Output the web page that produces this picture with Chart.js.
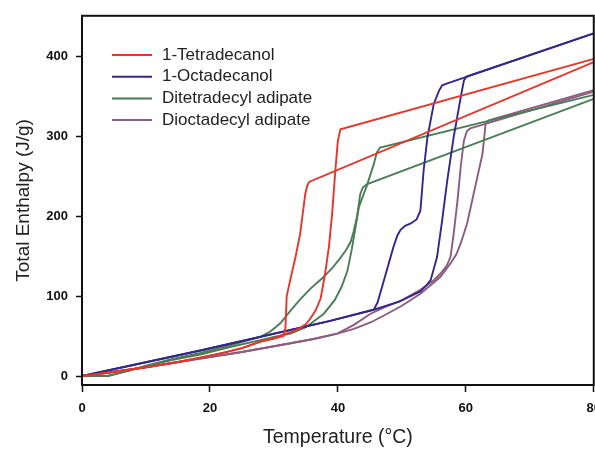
<!DOCTYPE html>
<html><head><meta charset="utf-8">
<script src="https://cdn.jsdelivr.net/npm/chart.js@4.4.1/dist/chart.umd.min.js"></script>
<style>
html,body{margin:0;padding:0;overflow:hidden;background:#fff;width:595px;height:451px}
#c{position:absolute;left:0;top:0}
</style>
</head><body><canvas id="c" width="610" height="451"></canvas>
<script>
// Legend names (one per material)
const materials = ["1-Tetradecanol", "1-Octadecanol", "Ditetradecyl adipate", "Dioctadecyl adipate"];
const colors = ["#e8352b", "#35278a", "#4a7d55", "#8d5b7f"];

// Axis ticks
const xTicks = [0, 20, 40, 60, 80];
const yTicks = [0, 100, 200, 300, 400];

// 1-Tetradecanol, two curves
const tetraA_T = [0, 5, 10, 15, 18.5, 22, 25, 27.9, 30, 31.5, 31.8, 32.0, 32.6, 33.4, 34.1, 34.9, 35.2, 35.5, 80];
const tetraA_H = [0, 5, 11, 17.5, 23, 29, 35, 43, 47, 50, 60, 100, 122, 150, 178, 228, 238, 243, 393];
const tetraB_T = [0, 5, 10, 15, 18.5, 22, 25, 27.9, 30, 31.5, 33, 34.1, 35, 35.7, 36.5, 37.3, 38.0, 38.6, 39.1, 39.6, 40.0, 40.4, 80];
const tetraB_H = [0, 5, 11, 17.5, 23, 29, 35, 43, 47, 52, 56, 60, 65, 72, 82, 97, 128, 162, 203, 257, 295, 309, 397];

// 1-Octadecanol, two curves
const octaA_T = [0, 18.5, 38.8, 45.6, 46.2, 47.2, 48.7, 49.3, 49.8, 50.5, 51.4, 52.3, 52.9, 53.4, 54.0, 55.0, 55.8, 56.3, 57, 80];
const octaA_H = [0, 32, 69, 83, 92, 120, 162, 176, 183, 188, 191, 196, 207, 257, 299, 341, 357, 364, 366, 429];
const octaB_T = [0, 18.5, 38.8, 45.6, 49.6, 52.9, 54, 54.5, 55.5, 56.3, 57.1, 58.1, 59.2, 59.7, 60.1, 80];
const octaB_H = [0, 32, 69, 83, 93, 106, 115, 120, 149, 195, 245, 299, 349, 370, 375, 429];

// Ditetradecyl adipate, two curves
const ditetraA_T = [0, 4, 6, 10, 14, 18.5, 23, 27.9, 29.5, 31, 32.5, 34.1, 35.8, 37.5, 39, 40.4, 41.3, 42, 42.5, 43, 43.5, 43.9, 44.5, 80];
const ditetraA_H = [0, 0, 4, 13, 21, 29, 38, 49, 56, 66, 81, 96, 110, 122, 134, 148, 158, 168, 182, 200, 228, 236, 240, 347];
const ditetraB_T = [0, 4, 6, 10, 14, 18.5, 23, 27.9, 30, 32.6, 35, 37.8, 39.5, 40.6, 41.5, 42.2, 43.3, 44.6, 45.6, 46.1, 46.6, 80];
const ditetraB_H = [0, 0, 4, 12, 20, 27, 36, 45, 49, 53, 61, 78, 95, 112, 132, 160, 212, 240, 265, 280, 286, 352];

// Dioctadecyl adipate, two curves
const dioctaA_T = [0, 10, 18.5, 25, 32.6, 36, 39.9, 42.5, 45.1, 47.5, 50, 52.9, 55, 56, 57, 57.6, 58.1, 58.7, 59.2, 59.7, 60.2, 60.7, 80];
const dioctaA_H = [0, 11, 22, 30, 41, 46, 53, 64, 78, 87, 95, 108, 120, 128, 138, 149, 178, 220, 262, 295, 307, 310, 356];
const dioctaB_T = [0, 10, 18.5, 25, 32.6, 36, 39.9, 42.5, 45.1, 47.5, 50, 52.9, 55, 56, 57.6, 58.5, 59.2, 60.2, 61, 61.8, 62.6, 63.1, 63.6, 80];
const dioctaB_H = [0, 11, 22, 30, 41, 46, 53, 59, 67, 77, 88, 103, 117, 124, 141, 152, 166, 191, 220, 249, 278, 316, 320, 358];

function pts(T, H) { return T.map((t, i) => ({x: t, y: H[i]})); }

const curves = [
  [0, tetraA_T, tetraA_H], [0, tetraB_T, tetraB_H],
  [1, octaA_T, octaA_H], [1, octaB_T, octaB_H],
  [2, ditetraA_T, ditetraA_H], [2, ditetraB_T, ditetraB_H],
  [3, dioctaA_T, dioctaA_H], [3, dioctaB_T, dioctaB_H]
];

const datasets = curves.map(([m, T, H]) => ({
  label: materials[m],
  data: pts(T, H),
  borderColor: colors[m],
  backgroundColor: colors[m],
  borderWidth: 1.9,
  pointRadius: 0,
  fill: false,
  tension: 0
}));

const framePlugin = {
  id: 'frame',
  afterDatasetsDraw(chart) {
    const {ctx, chartArea: a} = chart;
    ctx.save();
    ctx.strokeStyle = '#111';
    ctx.lineWidth = 2;
    ctx.strokeRect(a.left, a.top, a.right - a.left, a.bottom - a.top);
    ctx.restore();
  }
};

const legendPlugin = {
  id: 'innerLegend',
  afterDraw(chart) {
    const ctx = chart.ctx;
    ctx.save();
    ctx.font = '17px "Liberation Sans", Arial, sans-serif';
    ctx.textBaseline = 'middle';
    materials.forEach((name, i) => {
      const y = 55 + i * 21.7;
      ctx.strokeStyle = colors[i];
      ctx.lineWidth = 2;
      ctx.beginPath(); ctx.moveTo(112, y); ctx.lineTo(152, y); ctx.stroke();
      ctx.fillStyle = '#222';
      ctx.fillText(name, 162, y);
    });
    ctx.restore();
  }
};

new Chart(document.getElementById('c'), {
  type: 'line',
  data: { datasets },
  options: {
    responsive: false,
    animation: false,
    layout: { padding: { top: 15, right: 0, left: 0, bottom: 0 } },
    plugins: { legend: { display: false }, tooltip: { enabled: false } },
    scales: {
      x: {
        type: 'linear', min: 0, max: 80,
        afterBuildTicks: s => { s.ticks = xTicks.map(v => ({value: v})); },
        afterFit: s => { s.height = 66; },
        ticks: { font: { family: '"Liberation Sans", Arial, sans-serif', size: 13, weight: 'bold' }, color: '#111', padding: 9, maxRotation: 0 },
        grid: { drawOnChartArea: false, drawTicks: true, tickLength: 7, tickColor: '#111', tickWidth: 1.5 },
        border: { display: false },
        title: { display: true, text: 'Temperature (°C)', color: '#222',
          font: { family: '"Liberation Sans", Arial, sans-serif', size: 19.5 }, padding: { top: 0, bottom: 2 } }
      },
      y: {
        type: 'linear', min: -11.25, max: 451,
        afterBuildTicks: s => { s.ticks = yTicks.map(v => ({value: v})); },
        afterFit: s => { s.width = 82; },
        ticks: { font: { family: '"Liberation Sans", Arial, sans-serif', size: 13, weight: 'bold' }, color: '#111', padding: 8 },
        grid: { drawOnChartArea: false, drawTicks: true, tickLength: 6, tickColor: '#111', tickWidth: 1.5 },
        border: { display: false },
        title: { display: true, text: 'Total Enthalpy (J/g)', color: '#222',
          font: { family: '"Liberation Sans", Arial, sans-serif', size: 19 }, padding: { top: 12, bottom: 0 } }
      }
    }
  },
  plugins: [framePlugin, legendPlugin]
});
</script>
</body></html>
